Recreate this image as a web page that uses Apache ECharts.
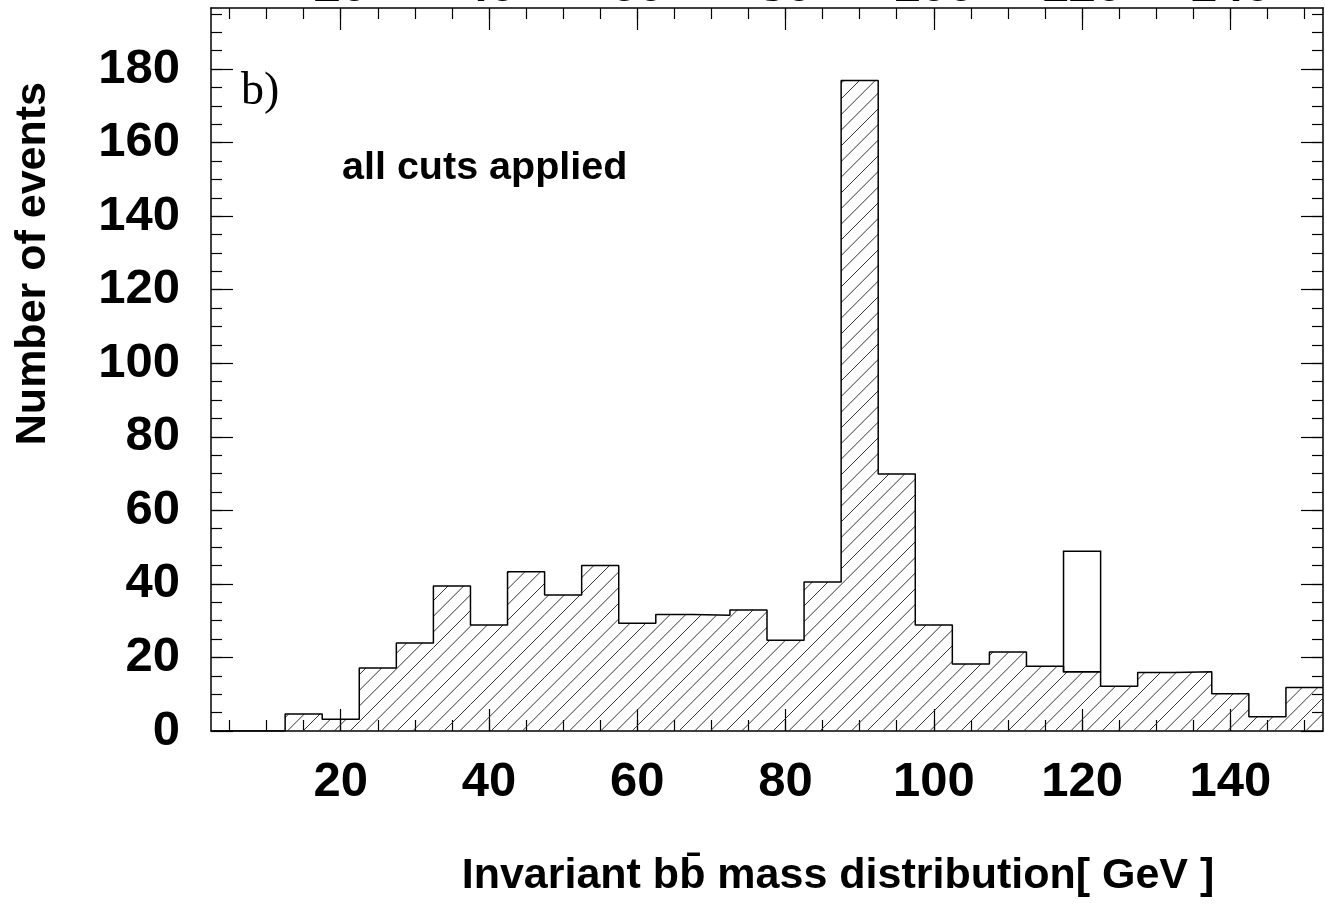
<!DOCTYPE html>
<html lang="en">
  <head>
    <meta charset="UTF-8" />
    <title>Invariant bb mass distribution</title>
    <script src="https://cdn.jsdelivr.net/npm/echarts@6.0.0/dist/echarts.min.js"></script>
  </head>
  <body style="margin: 0">
    <div id="main" style="width: 1325px; height: 909px"></div>
    <script type="text/javascript">
      // Histogram bins (5 GeV wide)
      const binCenters = [5, 10, 15, 20, 25, 30, 35, 40, 45, 50, 55, 60, 65, 70, 75,
        80, 85, 90, 95, 100, 105, 110, 115, 120, 125, 130, 135, 140, 145, 150];
      const backgroundEvents = [0, 0, 4.6, 3.2, 17.1, 23.9, 39.4, 28.8, 43.3, 37.0, 45.0,
        29.3, 31.7, 31.5, 32.9, 24.7, 40.5, 176.9, 69.9, 28.8, 18.2, 21.5, 17.6, 16.1,
        12.2, 15.9, 16.1, 10.1, 3.9, 11.8];
      // Signal bin drawn open on top of the background
      const signalCenters = [120];
      const signalTotals = [48.9];

      const xTickLabels = [20, 40, 60, 80, 100, 120, 140];
      const xMinorTicks = [5, 10, 15, 20, 25, 30, 35, 40, 45, 50, 55, 60, 65, 70, 75,
        80, 85, 90, 95, 100, 105, 110, 115, 120, 125, 130, 135, 140, 145, 150];
      const yTickLabels = [0, 20, 40, 60, 80, 100, 120, 140, 160, 180];
      const yMinorTicks = [5, 10, 15, 20, 25, 30, 35, 40, 45, 50, 55, 60, 65, 70, 75,
        80, 85, 90, 95, 100, 105, 110, 115, 120, 125, 130, 135, 140, 145, 150, 155,
        160, 165, 170, 175, 180, 185, 190, 195];

      const binWidth = 5;
      const xMin = 2.5;
      const xMax = 152.5;
      const yMax = 196.6;
      const font = '"Liberation Sans", Arial, Helvetica, sans-serif';

      // diagonal hatch pattern
      const hatch = document.createElement("canvas");
      const tile = 47;
      hatch.width = tile;
      hatch.height = tile;
      const hctx = hatch.getContext("2d");
      hctx.strokeStyle = "#333";
      hctx.lineWidth = 1;
      for (let k = -tile; k <= tile + 1; k += tile / 3) {
        hctx.beginPath();
        hctx.moveTo(k, tile);
        hctx.lineTo(k + tile, 0);
        hctx.stroke();
      }

      const bgData = binCenters.map((c, i) => [c - binWidth / 2, c + binWidth / 2, backgroundEvents[i]]);
      const outline = binCenters.map((c, i) => [c - binWidth / 2, backgroundEvents[i]]);
      outline.push([binCenters[binCenters.length - 1] + binWidth / 2, backgroundEvents[backgroundEvents.length - 1]]);
      const sigData = signalCenters.map((c, i) => [
        c - binWidth / 2, c + binWidth / 2,
        backgroundEvents[binCenters.indexOf(c)], signalTotals[i]
      ]);

      const frameLine = { show: true, onZero: false, lineStyle: { color: "#000", width: 1.5 } };
      const noLine = { show: false, onZero: false };
      const noLabel = { show: false };
      const tick = (vals, len) => ({ show: true, inside: true, length: len, customValues: vals,
        lineStyle: { color: "#000", width: 1.2 } });

      let myChart = echarts.init(document.getElementById("main"));
      let options = {
        animation: false,
        backgroundColor: "#fff",
        grid: { left: 211, right: 2, top: 8, bottom: 178, outerBoundsMode: "none", containLabel: false },
        xAxis: [
          {
            type: "value", min: xMin, max: xMax, position: "bottom",
            axisLine: frameLine, splitLine: { show: false },
            axisTick: tick(xTickLabels, 22),
            axisLabel: { customValues: xTickLabels, margin: 27, color: "#000",
              fontFamily: font, fontWeight: "bold", fontSize: 49 },
            name: "Invariant bb\u0304 mass distribution[ GeV ]",
            nameLocation: "middle", nameGap: 124,
            nameTextStyle: { color: "#000", fontFamily: font, fontWeight: "bold",
              fontSize: 43, padding: [0, 0, 0, 142] }
          },
          {
            type: "value", min: xMin, max: xMax, position: "bottom",
            axisLine: noLine, splitLine: { show: false },
            axisTick: tick(xMinorTicks, 11), axisLabel: noLabel
          },
          {
            // labels of the panel above, mostly cut off by the page edge
            type: "value", min: xMin, max: xMax, position: "top",
            axisLine: frameLine, splitLine: { show: false },
            axisTick: tick(xTickLabels, 22),
            axisLabel: { customValues: xTickLabels, margin: -4, color: "#000",
              fontFamily: font, fontWeight: "bold", fontSize: 49 }
          },
          {
            type: "value", min: xMin, max: xMax, position: "top",
            axisLine: noLine, splitLine: { show: false },
            axisTick: tick(xMinorTicks, 11), axisLabel: noLabel
          }
        ],
        yAxis: [
          {
            type: "value", min: 0, max: yMax, position: "left",
            axisLine: frameLine, splitLine: { show: false },
            axisTick: tick(yTickLabels, 22),
            axisLabel: { customValues: yTickLabels, margin: 31, color: "#000",
              fontFamily: font, fontWeight: "bold", fontSize: 49 }
          },
          {
            type: "value", min: 0, max: yMax, position: "left",
            axisLine: noLine, splitLine: { show: false },
            axisTick: tick(yMinorTicks, 11), axisLabel: noLabel
          },
          {
            type: "value", min: 0, max: yMax, position: "right",
            axisLine: frameLine, splitLine: { show: false },
            axisTick: tick(yTickLabels, 22), axisLabel: noLabel
          },
          {
            type: "value", min: 0, max: yMax, position: "right",
            axisLine: noLine, splitLine: { show: false },
            axisTick: tick(yMinorTicks, 11), axisLabel: noLabel
          }
        ],
        graphic: [
          {
            type: "text", left: 12, top: 82, rotation: Math.PI / 2,
            style: { text: "Number of events", fill: "#000", font: "bold 43px " + font }
          },
          {
            type: "text", left: 241, top: 69,
            style: { text: "b)", fill: "#000", font: '46px "Liberation Serif", "Times New Roman", serif' }
          },
          {
            type: "text", left: 342, top: 148,
            style: { text: "all cuts applied", fill: "#000", font: "bold 39.5px " + font }
          }
        ],
        series: [
          {
            name: "background",
            type: "custom",
            xAxisIndex: 0, yAxisIndex: 0,
            data: bgData,
            encode: { x: [0, 1], y: 2 },
            renderItem: (params, api) => {
              const p0 = api.coord([api.value(0), api.value(2)]);
              const p1 = api.coord([api.value(1), 0]);
              return {
                type: "rect",
                shape: { x: p0[0], y: p0[1], width: p1[0] - p0[0], height: p1[1] - p0[1] },
                style: { fill: { image: hatch, repeat: "repeat" }, stroke: null }
              };
            }
          },
          {
            name: "outline",
            type: "line",
            xAxisIndex: 0, yAxisIndex: 0,
            step: "end",
            symbol: "none",
            data: outline,
            lineStyle: { color: "#000", width: 1.5 }
          },
          {
            name: "signal",
            type: "custom",
            xAxisIndex: 0, yAxisIndex: 0,
            data: sigData,
            encode: { x: [0, 1], y: [2, 3] },
            renderItem: (params, api) => {
              const p0 = api.coord([api.value(0), api.value(3)]);
              const p1 = api.coord([api.value(1), api.value(2)]);
              return {
                type: "rect",
                shape: { x: p0[0], y: p0[1], width: p1[0] - p0[0], height: p1[1] - p0[1] },
                style: { fill: "#fff", stroke: "#000", lineWidth: 1.5 }
              };
            }
          }
        ]
      };
      myChart.setOption(options);
    </script>
  </body>
</html>
